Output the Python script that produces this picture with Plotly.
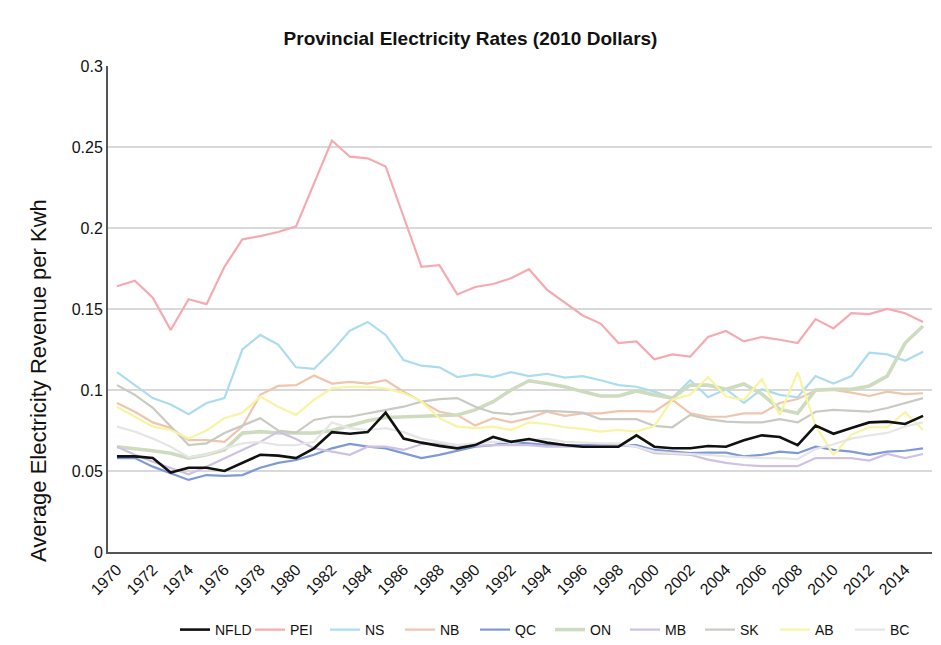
import plotly.graph_objects as go

years = [str(y) for y in range(1970, 2016)]

NFLD = [0.059, 0.059, 0.058, 0.049, 0.052, 0.052, 0.050, 0.055, 0.060, 0.0595, 0.058, 0.064,
        0.074, 0.073, 0.074, 0.086, 0.070, 0.0675, 0.0655, 0.064, 0.066, 0.071, 0.068, 0.0697,
        0.0675, 0.066, 0.065, 0.065, 0.065, 0.072, 0.065, 0.064, 0.064, 0.0654, 0.065, 0.069,
        0.072, 0.071, 0.066, 0.078, 0.073, 0.0765, 0.080, 0.0805, 0.079, 0.084]
PEI = [0.164, 0.1675, 0.157, 0.137, 0.156, 0.153, 0.176, 0.193, 0.195, 0.1975, 0.201, 0.228,
       0.254, 0.244, 0.243, 0.238, 0.207, 0.176, 0.177, 0.159, 0.1636, 0.1654, 0.169, 0.1746,
       0.162, 0.154, 0.146, 0.141, 0.129, 0.130, 0.119, 0.122, 0.1206, 0.1327, 0.1364, 0.130,
       0.1327, 0.131, 0.129, 0.1438, 0.138, 0.1474, 0.1468, 0.150, 0.1474, 0.142]
NS = [0.111, 0.103, 0.095, 0.091, 0.085, 0.092, 0.095, 0.125, 0.134, 0.128, 0.114, 0.113,
      0.124, 0.1366, 0.142, 0.134, 0.1185, 0.115, 0.114, 0.108, 0.1096, 0.108, 0.111, 0.1086,
      0.110, 0.1076, 0.1086, 0.106, 0.103, 0.102, 0.099, 0.095, 0.106, 0.0955, 0.1005, 0.092,
      0.1005, 0.097, 0.0955, 0.1086, 0.104, 0.1086, 0.123, 0.122, 0.118, 0.1236]
NB = [0.092, 0.0866, 0.080, 0.0765, 0.069, 0.069, 0.068, 0.0774, 0.097, 0.1025, 0.103, 0.109,
      0.104, 0.105, 0.104, 0.106, 0.099, 0.093, 0.0866, 0.0846, 0.078, 0.0826, 0.080, 0.0826,
      0.0866, 0.084, 0.0856, 0.0856, 0.087, 0.087, 0.0866, 0.094, 0.0856, 0.0835, 0.0835, 0.0856,
      0.0856, 0.092, 0.0944, 0.0996, 0.100, 0.0984, 0.0963, 0.099, 0.0975, 0.098]
QC = [0.058, 0.058, 0.0527, 0.0487, 0.0445, 0.0475, 0.047, 0.0475, 0.052, 0.055, 0.0568, 0.060,
      0.064, 0.0667, 0.065, 0.064, 0.061, 0.058, 0.060, 0.0625, 0.065, 0.066, 0.068, 0.067,
      0.066, 0.066, 0.066, 0.066, 0.066, 0.066, 0.063, 0.062, 0.061, 0.0613, 0.0613, 0.059,
      0.060, 0.062, 0.061, 0.065, 0.063, 0.062, 0.060, 0.062, 0.0625, 0.064]
ON = [0.065, 0.064, 0.0625, 0.061, 0.058, 0.060, 0.063, 0.0734, 0.0743, 0.0735, 0.0735, 0.0735,
      0.075, 0.078, 0.081, 0.083, 0.0835, 0.0835, 0.084, 0.0846, 0.0877, 0.0928, 0.100, 0.1057,
      0.104, 0.102, 0.099, 0.0963, 0.0963, 0.0994, 0.097, 0.095, 0.103, 0.103, 0.1005, 0.1037,
      0.0975, 0.088, 0.0857, 0.100, 0.1005, 0.1005, 0.1025, 0.1086, 0.129, 0.1395]
MB = [0.065, 0.060, 0.0557, 0.052, 0.048, 0.0527, 0.058, 0.063, 0.068, 0.0743, 0.0697, 0.064,
      0.062, 0.060, 0.065, 0.065, 0.063, 0.0665, 0.067, 0.066, 0.0655, 0.066, 0.066, 0.066,
      0.065, 0.065, 0.065, 0.0655, 0.066, 0.065, 0.061, 0.0605, 0.060, 0.057, 0.055, 0.0537,
      0.053, 0.053, 0.053, 0.058, 0.058, 0.058, 0.0564, 0.0605, 0.058, 0.0605]
SK = [0.103, 0.097, 0.089, 0.0774, 0.066, 0.067, 0.0734, 0.078, 0.0826, 0.075, 0.0737, 0.0815,
      0.0835, 0.0835, 0.0856, 0.088, 0.0897, 0.0928, 0.0944, 0.095, 0.0897, 0.086, 0.085, 0.0866,
      0.0872, 0.0866, 0.086, 0.082, 0.082, 0.082, 0.0778, 0.077, 0.0846, 0.082, 0.0805, 0.080,
      0.080, 0.082, 0.080, 0.0866, 0.0877, 0.087, 0.0866, 0.0889, 0.092, 0.095]
AB = [0.0897, 0.0835, 0.0774, 0.0753, 0.070, 0.075, 0.0826, 0.086, 0.0959, 0.0897, 0.0846, 0.094,
      0.101, 0.102, 0.102, 0.101, 0.098, 0.093, 0.0826, 0.0774, 0.0765, 0.0774, 0.0753, 0.080,
      0.079, 0.077, 0.076, 0.0743, 0.0753, 0.0743, 0.0778, 0.094, 0.097, 0.108, 0.096, 0.094,
      0.1067, 0.0846, 0.111, 0.078, 0.060, 0.0725, 0.077, 0.077, 0.0863, 0.0753]
BC = [0.0774, 0.0743, 0.070, 0.065, 0.0585, 0.060, 0.064, 0.067, 0.068, 0.066, 0.066, 0.068,
      0.080, 0.0765, 0.0753, 0.0765, 0.074, 0.070, 0.068, 0.066, 0.067, 0.068, 0.068, 0.069,
      0.070, 0.068, 0.0675, 0.067, 0.067, 0.065, 0.062, 0.061, 0.0605, 0.060, 0.059, 0.0585,
      0.058, 0.058, 0.0574, 0.0635, 0.0665, 0.070, 0.072, 0.0735, 0.0775, 0.080]

series = [
    ("NFLD", NFLD, "#111111", 2.6),
    ("PEI", PEI, "#f5aab0", 2.2),
    ("NS", NS, "#abdcf0", 2.2),
    ("NB", NB, "#efc5ae", 2.2),
    ("QC", QC, "#7e9ad6", 2.2),
    ("ON", ON, "#cddcbf", 3.6),
    ("MB", MB, "#cfc1e2", 2.2),
    ("SK", SK, "#c9cac2", 2.2),
    ("AB", AB, "#f7f4a2", 2.2),
    ("BC", BC, "#e6e6e6", 2.2),
]

fig = go.Figure()
for name, vals, color, w in series:
    fig.add_trace(go.Scatter(x=years, y=vals, mode="lines", name=name,
                             line=dict(color=color, width=w)))

# draw NFLD on top
fig.data = fig.data[1:] + fig.data[:1]

tickyears = [str(y) for y in range(1970, 2015, 2)]

fig.update_layout(
    width=941, height=645,
    margin=dict(l=108, r=9, t=66, b=93, autoexpand=False),
    paper_bgcolor="white", plot_bgcolor="white",
    font=dict(family="Liberation Sans, Arial, sans-serif", color="#111111"),
    title=dict(text="<b>Provincial Electricity Rates (2010 Dollars)</b>",
               x=0.5, xanchor="center", y=0.941, yanchor="middle",
               font=dict(size=19, color="#111111")),
    showlegend=True,
    legend=dict(orientation="h", xref="container", x=175 / 941, xanchor="left",
                yref="container", y=1 - 630 / 645, yanchor="middle",
                font=dict(size=14), itemwidth=30, traceorder="normal",
                entrywidth=30, entrywidthmode="pixels",
                bgcolor="rgba(0,0,0,0)"),
    xaxis=dict(type="category", range=[-0.5, 45.5], tickmode="array",
               tickvals=tickyears, ticktext=tickyears, tickangle=-45,
               tickfont=dict(size=16), showgrid=False, showline=True,
               linecolor="#555555", linewidth=2, ticks="", zeroline=False),
    yaxis=dict(range=[0, 0.3], tickvals=[0, 0.05, 0.1, 0.15, 0.2, 0.25, 0.3],
               ticktext=["0", "0.05", "0.1", "0.15", "0.2", "0.25", "0.3"],
               tickfont=dict(size=16), showgrid=True, gridcolor="#d9d9d9", gridwidth=1.5,
               showline=True, linecolor="#555555", linewidth=2, zeroline=False),
    annotations=[dict(text="Average Electricity Revenue per Kwh", textangle=-90,
                      xref="paper", yref="paper", x=-0.085, xanchor="center",
                      y=(552 - 380) / 486, yanchor="middle", showarrow=False,
                      font=dict(size=22, color="#111111"))],
)

order = ["NFLD", "PEI", "NS", "NB", "QC", "ON", "MB", "SK", "AB", "BC"]
for tr in fig.data:
    tr.legendrank = order.index(tr.name) + 1

fig.write_html("out.html")
